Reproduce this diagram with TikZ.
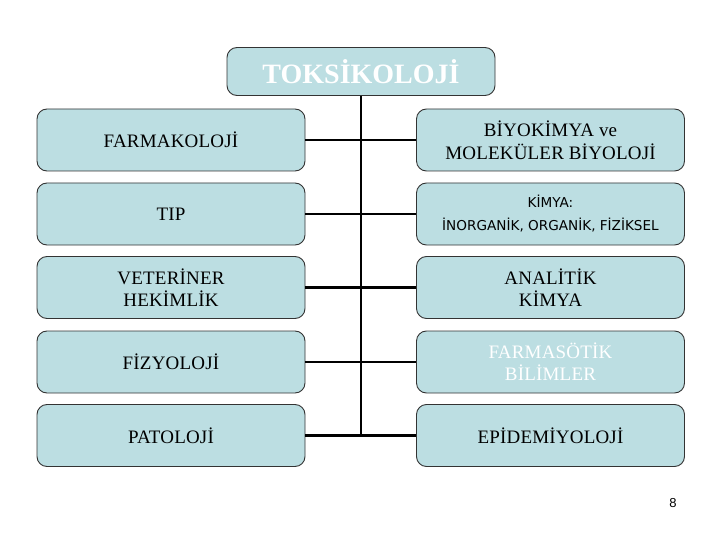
\documentclass[tikz,border=0pt]{standalone}
\usepackage{fontspec}
\setmainfont{Liberation Serif}[LetterSpace=1]
\newfontfamily\sansf{DejaVu Sans}
\newfontfamily\topfont{Liberation Serif}
\newfontfamily\pgfont{Liberation Sans}
\definecolor{boxfill}{HTML}{BCDEE2}
\definecolor{boxline}{HTML}{333333}
\begin{document}
\begin{tikzpicture}[x=1pt,y=-1pt,
  box/.style={draw=boxline, line width=0.9pt, fill=boxfill, rounded corners=10pt,
    minimum width=268pt, minimum height=62pt, inner sep=0pt, align=center,
    font=\fontsize{19}{22}\selectfont},
  conn/.style={line width=2.8pt, black}]
\useasboundingbox (0,0) rectangle (720,540);
\node[box, minimum height=48pt, font=\topfont\bfseries\fontsize{28}{30}\selectfont, text=white] (top) at (361,71.5) {TOKSİKOLOJİ};
% left column
\node[box] (l1) at (171,140) {FARMAKOLOJİ};
\node[box] (l2) at (171,214) {TIP};
\node[box] (l3) at (171,287.5) {VETERİNER\\ HEKİMLİK};
\node[box] (l4) at (171,362) {FİZYOLOJİ};
\node[box] (l5) at (171,435.5) {PATOLOJİ};
% right column
\node[box, font=\fontsize{19}{23}\selectfont] (r1) at (550.5,140) {BİYOKİMYA ve\\ MOLEKÜLER BİYOLOJİ};
\node[box, font=\sansf\fontsize{13.6}{23}\selectfont] (r2) at (550.5,214) {KİMYA:\\ İNORGANİK, ORGANİK, FİZİKSEL};
\node[box] (r3) at (550.5,287.5) {ANALİTİK\\ KİMYA};
\node[box, text=white] (r4) at (550.5,362) {FARMASÖTİK\\ BİLİMLER};
\node[box] (r5) at (550.5,435.5) {EPİDEMİYOLOJİ};
% connectors
\coordinate (bot) at (l5.east -| top.south);
\draw[conn] (top.south) -- ([yshift=1.4pt]bot);
\foreach \n in {1,...,5}{
  \draw[conn] (l\n.east) -- (l\n.east -| top.south);
  \draw[conn] (r\n.west) -- (r\n.west -| top.south);
}
\node[font=\pgfont\fontsize{13}{15}\selectfont] (pg) at (673,503) {8};
\end{tikzpicture}
\end{document}
